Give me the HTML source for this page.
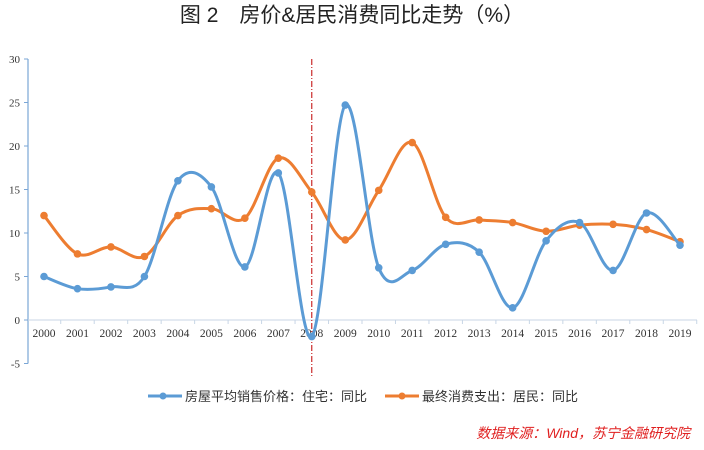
<!DOCTYPE html>
<html><head><meta charset="utf-8"><style>
body{margin:0;background:#fff;width:704px;height:445px;overflow:hidden}
svg text{font-family:"Liberation Serif","Noto Serif CJK SC",serif}
</style></head><body>
<svg id="c" width="704" height="445">
<text x="352" y="22" text-anchor="middle" font-size="21" fill="#222" style="font-family:'Liberation Sans','Noto Sans CJK SC',sans-serif">图 2　房价&amp;居民消费同比走势（%）</text>
<g id="axes"></g><g id="series"></g>
<g style="font-family:'Liberation Sans','Noto Sans CJK SC',sans-serif">
<g><line x1="148" y1="396" x2="182" y2="396" stroke="#5B9BD5" stroke-width="3"/><circle cx="163" cy="396" r="3.5" fill="#5B9BD5"/><text x="185" y="401" font-size="13" fill="#333" style="font-family:'Liberation Sans','Noto Sans CJK SC',sans-serif">房屋平均销售价格：住宅：同比</text></g>
<g><line x1="385" y1="396" x2="419" y2="396" stroke="#ED7D31" stroke-width="3"/><circle cx="402" cy="396" r="3.5" fill="#ED7D31"/><text x="422" y="401" font-size="13" fill="#333" style="font-family:'Liberation Sans','Noto Sans CJK SC',sans-serif">最终消费支出：居民：同比</text></g>
</g>
<text x="690" y="438" text-anchor="end" font-size="14" fill="#E02020" font-style="italic" style="font-family:'Liberation Sans','Noto Sans CJK SC',sans-serif">数据来源：Wind，苏宁金融研究院</text>
</svg>
<script>
const categories=["2000","2001","2002","2003","2004","2005","2006","2007","2008","2009","2010","2011","2012","2013","2014","2015","2016","2017","2018","2019"];
const housePrice=[5,3.6,3.8,5,16,15.3,6.1,16.9,-1.9,24.7,6,5.7,8.7,7.8,1.4,9.1,11.2,5.7,12.3,8.6];
const consumption=[12,7.6,8.4,7.3,12,12.8,11.7,18.6,14.7,9.2,14.9,20.4,11.8,11.5,11.2,10.2,10.9,11,10.4,9];
const yTicks=[-5,0,5,10,15,20,25,30];
const markerYear="2008";
const NS="http://www.w3.org/2000/svg";
const X0=44,DX=(680-44)/19;
const xs=i=>X0+i*DX;
const ys=v=>320-v*(261/30);
function mk(t,a,p){const e=document.createElementNS(NS,t);for(const k in a)e.setAttribute(k,a[k]);p.appendChild(e);return e;}
const ax=document.getElementById('axes');
let e=mk('line',{x1:28,y1:ys(30),x2:28,y2:ys(-5),stroke:'#7aa6d6','stroke-width':1.2},ax);


yTicks.forEach(v=>{
 mk('line',{x1:24,y1:ys(v),x2:28,y2:ys(v),stroke:'#7aa6d6'},ax);
 const t=mk('text',{x:20,y:ys(v)+4,'text-anchor':'end','font-size':11,fill:'#333'},ax);t.textContent=v;
 
 
});
e=mk('line',{x1:28,y1:ys(0),x2:697,y2:ys(0),stroke:'#c8d6e6','stroke-width':1},ax);


categories.forEach((c,i)=>{
 mk('line',{x1:xs(i)+DX/2,y1:ys(0),x2:xs(i)+DX/2,y2:ys(0)+4,stroke:'#c8d6e6'},ax);
 const t=mk('text',{x:xs(i),y:ys(0)+17,'text-anchor':'middle','font-size':11.5,fill:'#333'},ax);t.textContent=c;
 
 
});
const mi=categories.indexOf(markerYear);
e=mk('line',{x1:xs(mi),y1:ys(30),x2:xs(mi),y2:378,stroke:'#C00000','stroke-width':1,'stroke-dasharray':'6,2,1,2'},ax);


function smooth(pts){let d=`M${pts[0][0]},${pts[0][1]}`;for(let i=0;i<pts.length-1;i++){const p0=pts[i-1]||pts[i],p1=pts[i],p2=pts[i+1],p3=pts[i+2]||p2;const k=1/6;d+=` C${p1[0]+(p2[0]-p0[0])*k},${p1[1]+(p2[1]-p0[1])*k} ${p2[0]-(p3[0]-p1[0])*k},${p2[1]-(p3[1]-p1[1])*k} ${p2[0]},${p2[1]}`;}return d;}
const sg=document.getElementById('series');
[[consumption,'#ED7D31','consumption'],[housePrice,'#5B9BD5','house-price']].forEach(([vals,col,nm])=>{
 const g=mk('g',{},sg);
 
 
 const pts=vals.map((v,i)=>[xs(i),ys(v)]);
 const p=mk('path',{d:smooth(pts),fill:'none',stroke:col,'stroke-width':3},g);
 
 
 pts.forEach(q=>{const c=mk('circle',{cx:q[0],cy:q[1],r:3.8,fill:col},g);
 
 });
});
</script>
</body></html>
